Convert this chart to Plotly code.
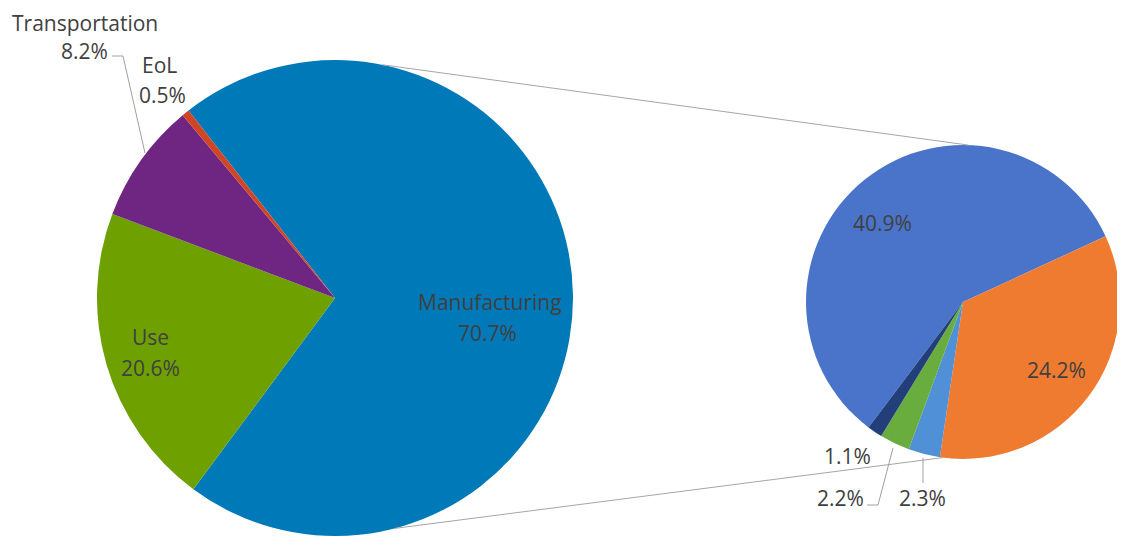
import math
import plotly.graph_objects as go

# ---- data ----
main_labels = ["Manufacturing", "Use", "Transportation", "EoL"]
main_values = [70.7, 20.6, 8.2, 0.5]
main_colors = ["#0079B8", "#6EA000", "#6F2683", "#D04525"]

sub_labels = ["A", "B", "C", "D", "E"]
sub_values = [40.9, 24.2, 2.3, 2.2, 1.1]
sub_colors = ["#4A74C9", "#EE7B30", "#4F90D6", "#6AAD3F", "#223F7A"]

# page body has an 8px margin; figure sized so that it fills the window
OFF = 8
W, H = 1125 - OFF, 550 - OFF
TXT = "#404040"
FONT = "Open Sans"
FS = 21

# geometry (screen pixels)
L_CX, L_CY, L_R = 335, 298, 238
R_CX, R_CY, R_R = 963, 302, 157


def P(x, y):
    return (x - OFF) / W, 1 - (y - OFF) / H


def dom(cx, cy, r):
    x0, y1 = P(cx - r, cy + r)
    x1, y0 = P(cx + r, cy - r)
    return dict(x=[x0, x1], y=[y1, y0])


def polar(cx, cy, r, deg):
    a = math.radians(deg)
    return cx + r * math.sin(a), cy - r * math.cos(a)


fig = go.Figure()
fig.add_trace(go.Pie(
    labels=main_labels, values=main_values, sort=False, direction="clockwise",
    rotation=-38, textinfo="none", marker=dict(colors=main_colors),
    domain=dom(L_CX, L_CY, L_R), showlegend=False, name="main"))
fig.add_trace(go.Pie(
    labels=sub_labels, values=sub_values, sort=False, direction="clockwise",
    rotation=-143, textinfo="none", marker=dict(colors=sub_colors),
    domain=dom(R_CX, R_CY, R_R), showlegend=False, name="sub"))

ann = []


def label(text, x, y, xanchor="center"):
    px, py = P(x, y)
    ann.append(dict(text=text, x=px, y=py, xref="paper", yref="paper", showarrow=False,
                    xanchor=xanchor, yanchor="middle", borderpad=0,
                    font=dict(family=FONT, size=FS, color=TXT)))


pct = [f"{v:.1f}%" for v in main_values]
label(main_labels[0], 490, 302)
label(pct[0], 487, 333)
label(main_labels[1], 150, 337)
label(pct[1], 150, 368)
label(main_labels[2], 85, 23)
label(pct[2], 109, 51, "right")
label(main_labels[3], 160, 65)
label(pct[3], 162, 95)

spct = [f"{v:.1f}%" for v in sub_values]
label(spct[0], 882, 223)
label(spct[1], 1056, 370)
label(spct[4], 847, 456)
label(spct[3], 865, 498, "right")
label(spct[2], 922, 498)

shapes = []


def line(x0, y0, x1, y1, color="#A6A6A6"):
    a0, b0 = P(x0, y0)
    a1, b1 = P(x1, y1)
    shapes.append(dict(type="line", xref="paper", yref="paper", x0=a0, y0=b0, x1=a1, y1=b1,
                       line=dict(color=color, width=1)))


# connector lines between pies
t0 = polar(L_CX, L_CY, L_R, 11.5)
t1 = polar(R_CX, R_CY, R_R, 2)
b0 = polar(L_CX, L_CY, L_R, 165.5)
b1 = polar(R_CX, R_CY, R_R, 187.5)
line(*t0, *t1)
line(*b0, *b1)

# leader lines
line(112, 56, 123, 56, "#A0A0A0")
line(123, 56, 145, 153, "#A0A0A0")
line(867, 505, 878, 505, "#A0A0A0")
line(878, 505, 893, 448, "#A0A0A0")
line(923, 483, 923, 458, "#A0A0A0")

fig.update_layout(
    width=W, height=H, margin=dict(l=0, r=0, t=0, b=0),
    paper_bgcolor="white", plot_bgcolor="white",
    annotations=ann, shapes=shapes,
    font=dict(family=FONT, color=TXT),
)
fig.write_html("out.html")
